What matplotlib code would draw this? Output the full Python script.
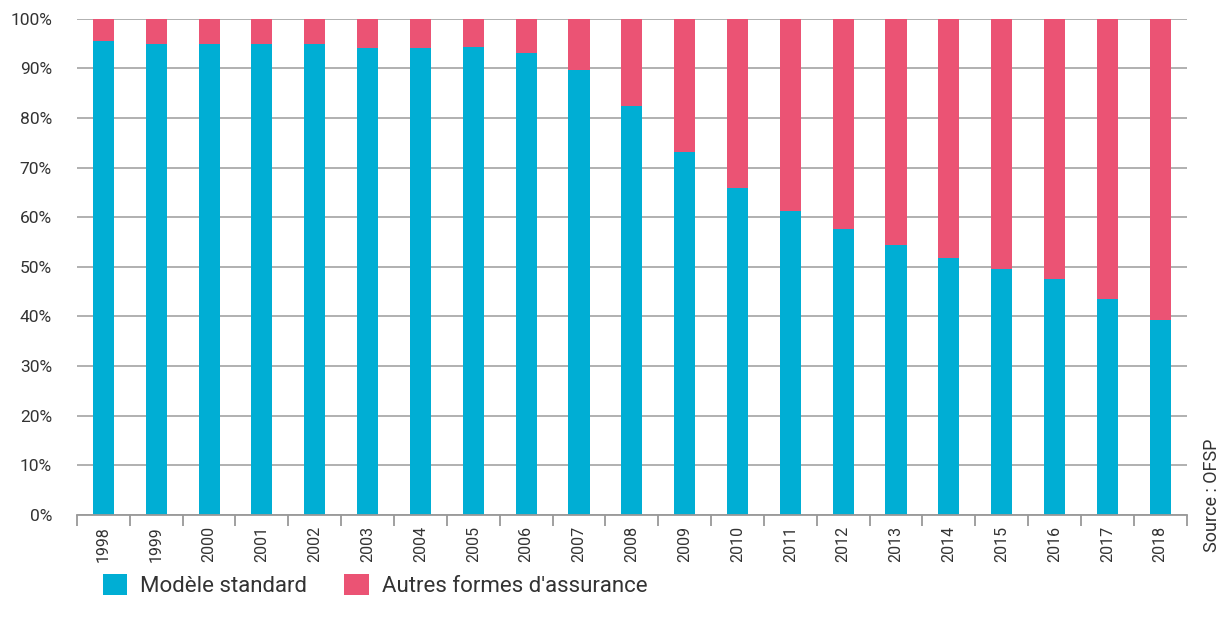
import matplotlib
matplotlib.use("Agg")
import matplotlib.pyplot as plt
import numpy as np
from matplotlib.patches import Patch

years = ["1998", "1999", "2000", "2001", "2002", "2003", "2004", "2005", "2006", "2007",
         "2008", "2009", "2010", "2011", "2012", "2013", "2014", "2015", "2016", "2017", "2018"]
standard = [95.6, 95.0, 95.0, 95.0, 95.0, 94.0, 94.0, 94.4, 93.0, 89.7,
            82.5, 73.1, 65.8, 61.2, 57.6, 54.3, 51.8, 49.6, 47.6, 43.5, 39.3]
autres = [100 - v for v in standard]

c_std = "#00AED4"
c_aut = "#EB5374"
txt = "#333333"

plt.rcParams['font.family'] = ['Roboto', 'DejaVu Sans']
fig = plt.figure(figsize=(12.22, 6.24), dpi=100)
ax = fig.add_axes([0.063, 0.175, 0.908, 0.795])

x = np.arange(len(years))
ax.bar(x, standard, width=0.4, color=c_std, zorder=3)
ax.bar(x, autres, width=0.4, bottom=standard, color=c_aut, zorder=3)

ax.set_xlim(-0.5, len(years) - 0.5)
ax.set_ylim(0, 100)
ax.set_yticks(np.arange(0, 101, 10))
ax.set_yticklabels([f"{v}%" for v in range(0, 101, 10)], fontsize=12.5, color=txt)
ax.yaxis.grid(True, color="#aaaaaa", linewidth=1.3, zorder=0)
ax.tick_params(axis='y', length=0, pad=18)

ax.set_xticks(x)
ax.set_xticklabels(years, rotation=90, fontsize=11.5, color=txt)
ax.tick_params(axis='x', which='major', length=0, pad=8)
ax.set_xticks(np.arange(-0.5, len(years), 1), minor=True)
ax.tick_params(axis='x', which='minor', length=8, color="#999999", width=1.3)

for s in ["top", "right", "left"]:
    ax.spines[s].set_visible(False)
ax.spines["bottom"].set_color("#999999")
ax.spines["bottom"].set_linewidth(1.3)
ax.spines["bottom"].set_zorder(4)

handles = [Patch(facecolor=c_std, label="Modèle standard"),
           Patch(facecolor=c_aut, label="Autres formes d'assurance")]
fig.legend(handles=handles, loc="center left", bbox_to_anchor=(0.084, 0.062), ncol=2,
           frameon=False, fontsize=16, handlelength=1.1, handleheight=1.1,
           columnspacing=1.65, handletextpad=0.6, labelcolor=txt, borderaxespad=0,
           borderpad=0)

fig.text(0.992, 0.207, "Source : OFSP", rotation=90, fontsize=13, color=txt,
         ha="center", va="center")

fig.savefig("out.png", dpi=100)
